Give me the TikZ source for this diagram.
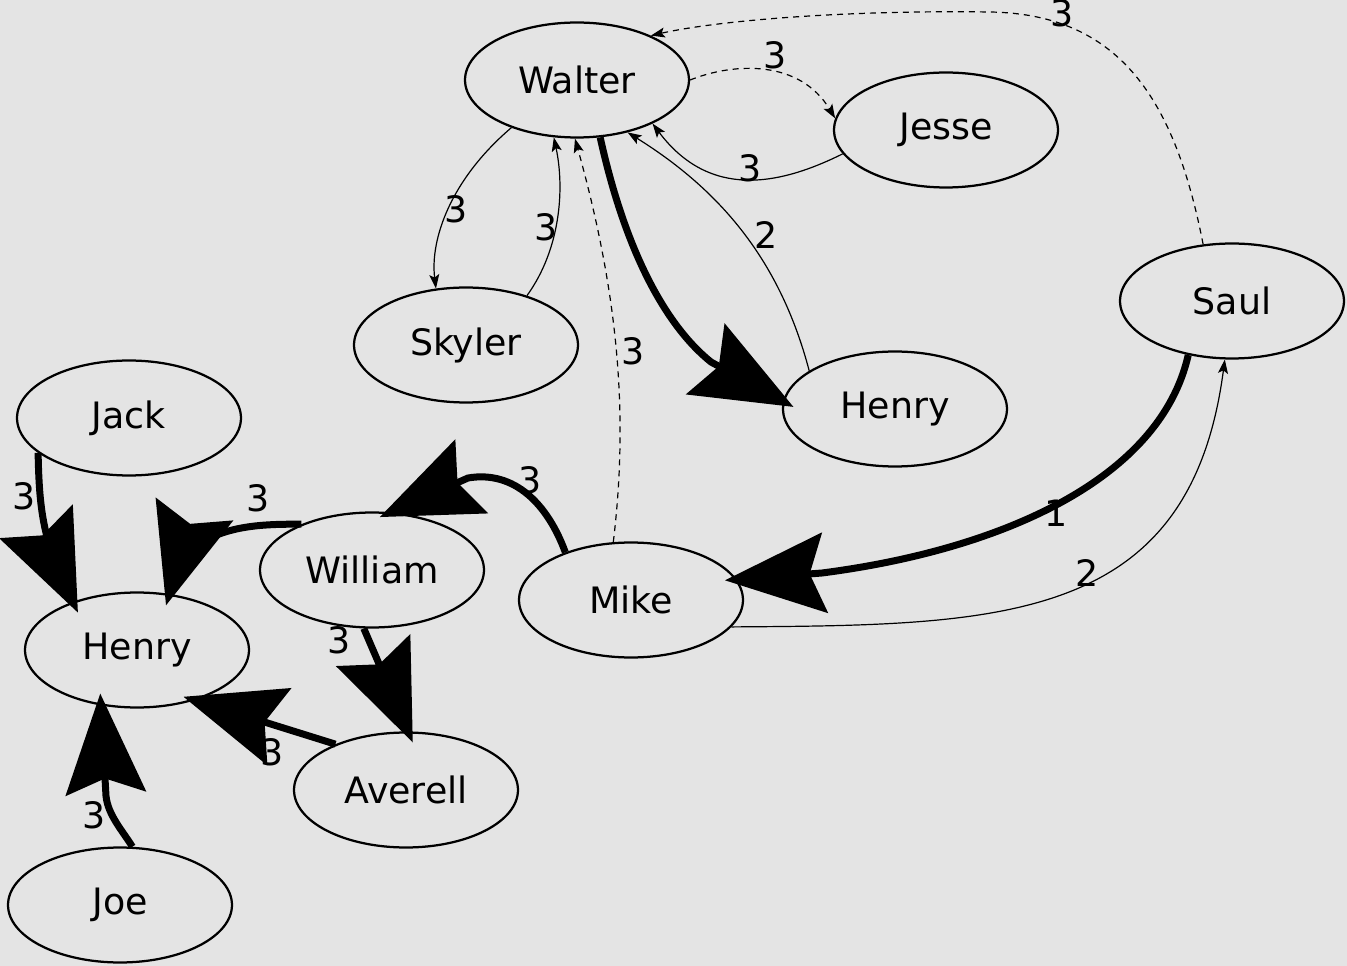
\documentclass[tikz,border=0pt]{standalone}
\usepackage{fontspec}
\setmainfont{DejaVu Sans}
\usetikzlibrary{arrows.meta,shapes.geometric}
\definecolor{bg}{RGB}{228,228,228}
\begin{document}
\begin{tikzpicture}[x=0.02cm,y=-0.02cm,
  every node/.style={font=\fontsize{20.7}{24}\selectfont},
  person/.style={ellipse, draw, line width=0.045cm, minimum width=4.48cm, minimum height=2.3cm, inner sep=0pt},
  thin edge/.style={line width=0.024cm, -{Stealth[length=0.28cm,width=0.2cm,inset=0.06cm]}},
  dashed edge/.style={thin edge, dash pattern=on 0.12cm off 0.1cm},
  heavy/.style={line width=0.14cm, -{Stealth[length=2.0cm,width=1.6cm,inset=0.3cm]}, shorten >=-0.24cm},
  lbl/.style={inner sep=0pt}]
\fill[bg] (0,0) rectangle (1347,966);
\useasboundingbox (0,0) rectangle (1347,966);

% nodes
\node[person] (walter) at (577,80) {Walter};
\node[person] (jesse) at (946,130) {Jesse};
\node[person] (skyler) at (466,345) {Skyler};
\node[person] (henryT) at (895,409) {Henry};
\node[person] (saul) at (1232,301) {Saul};
\node[person] (jack) at (129,418) {Jack};
\node[person] (william) at (372,570) {William};
\node[person] (mike) at (631,600) {Mike};
\node[person] (henryL) at (137,650) {Henry};
\node[person] (averell) at (406,790) {Averell};
\node[person] (joe) at (120,905) {Joe};

% thin / dashed edges
\draw[dashed edge] (walter.0) .. controls (735,62) and (800,60) .. (jesse.174);
\draw[dashed edge] (saul.117) .. controls (1175,100) and (1120,14) .. (990,12)
   .. controls (850,10) and (720,20) .. (walter.31);
\draw[thin edge] (jesse.193) .. controls (780,185) and (710,200) .. (walter.-30);
\draw[thin edge] (henryT.156) .. controls (780,260) and (720,190) .. (walter.-46);
\draw[thin edge] (walter.-144) .. controls (450,180) and (430,240) .. (skyler.118);
\draw[thin edge] (skyler.39) .. controls (560,250) and (565,190) .. (walter.-112);
\draw[dashed edge] (mike.107) .. controls (628,420) and (620,300) .. (walter.-92);
\draw[thin edge] (mike.-15) .. controls (1000,625) and (1190,625) .. (saul.-97);

% heavy edges
\draw[heavy] (walter.-68) .. controls (625,250) and (665,325) .. (711,362) -- (henryT.176);
\draw[heavy] (saul.-129) .. controls (1160,480) and (1000,550) .. (822,573) -- (mike.11);
\draw[heavy] (mike.144) .. controls (548,505) and (515,470) .. (468,478) -- (william.72);
\draw[heavy] (william.147) .. controls (255,524) and (215,526) .. (180,558) -- (henryL.60);
\draw[heavy] (jack.-159) .. controls (39,500) and (42,530) .. (57.3,567.7) -- (henryL.143);
\draw[heavy] (william.-98) -- (averell.88);
\draw[heavy] (averell.147) -- (henryL.-41);
\draw[heavy] (joe.78) .. controls (122,830) and (108,815) .. (106,796) -- (henryL.-123);

% labels
\node[lbl] (l1) at (775,55) {3};
\node[lbl] (l2) at (1062,13) {3};
\node[lbl] (l3) at (750,168) {3};
\node[lbl] (l4) at (766,235) {2};
\node[lbl] (l5) at (456,209) {3};
\node[lbl] (l6) at (546,227) {3};
\node[lbl] (l7) at (633,351) {3};
\node[lbl] (l8) at (530,480) {3};
\node[lbl] (l9) at (1056,513) {1};
\node[lbl] (l10) at (1087,573) {2};
\node[lbl] (l11) at (258,498) {3};
\node[lbl] (l12) at (24,496) {3};
\node[lbl] (l13) at (339,640) {3};
\node[lbl] (l14) at (272,752) {3};
\node[lbl] (l15) at (94,815) {3};
\end{tikzpicture}
\end{document}
